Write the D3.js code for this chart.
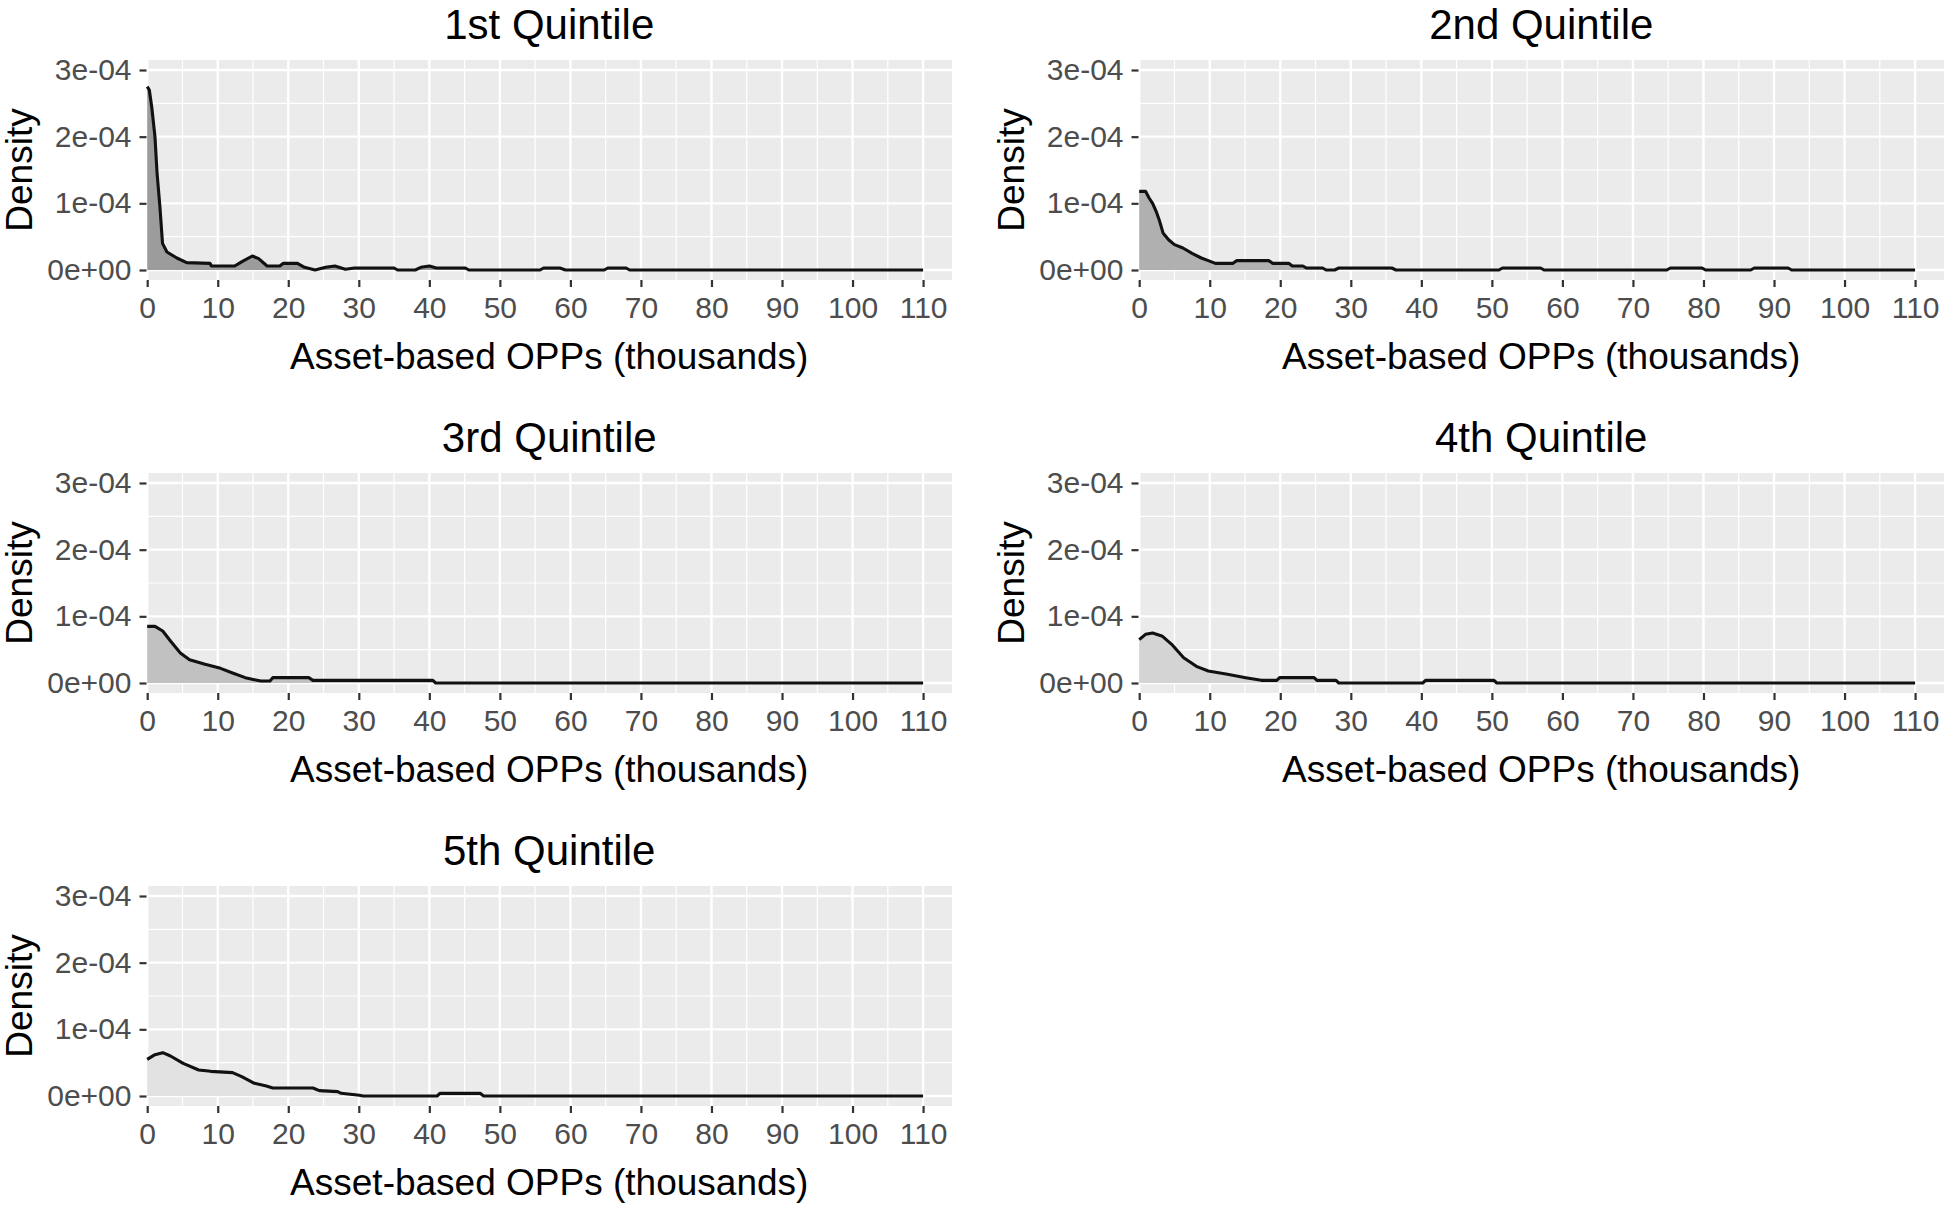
<!DOCTYPE html>
<html><head><meta charset="utf-8">
<script src="https://cdn.jsdelivr.net/npm/d3@7"></script>
<style>
body{margin:0;background:#fff}
svg{display:block}
text{font-family:"Liberation Sans",Arial,sans-serif}
</style>
</head><body><svg id="c" width="1944" height="1205"></svg>
<script>
// ---- data (x in thousands, y = density) ----
const titles = ["1st Quintile","2nd Quintile","3rd Quintile","4th Quintile","5th Quintile"];
const fills = ["#9c9c9c","#b0b0b0","#c1c1c1","#d4d4d4","#e2e2e2"];

const q1 = [[0,2.75e-4],[0.3,2.7e-4],[0.66,2.43e-4],[1.1,2.0e-4],[1.4,1.45e-4],[1.8,0.95e-4],[2.17,0.4e-4],[2.8,0.27e-4],[4.2,0.18e-4],[5.6,0.11e-4],[8.9,0.1e-4],[9.1,0.06e-4],[12.4,0.06e-4],[13.5,0.13e-4],[14.9,0.21e-4],[15.8,0.17e-4],[17.0,0.06e-4],[18.8,0.06e-4],[19.3,0.1e-4],[21.3,0.1e-4],[22.3,0.04e-4],[23.8,0.0],[25.3,0.04e-4],[26.6,0.06e-4],[28.1,0.01e-4],[29.4,0.03e-4],[35.0,0.03e-4],[35.5,0.0],[38.0,0.0],[38.8,0.04e-4],[40.0,0.06e-4],[41.0,0.03e-4],[45.1,0.03e-4],[45.6,0.0],[55.7,0.0],[56.2,0.03e-4],[58.5,0.03e-4],[59.3,0.0],[64.8,0.0],[65.3,0.03e-4],[67.9,0.03e-4],[68.4,0.0],[110,0.0]];
const q2 = [[0,1.18e-4],[0.9,1.18e-4],[1.4,1.08e-4],[1.9,1.0e-4],[2.4,0.88e-4],[2.9,0.73e-4],[3.4,0.55e-4],[4.2,0.45e-4],[5.0,0.38e-4],[6.2,0.33e-4],[7.5,0.25e-4],[8.8,0.18e-4],[9.8,0.14e-4],[10.8,0.1e-4],[13.3,0.1e-4],[13.8,0.14e-4],[18.4,0.14e-4],[18.9,0.1e-4],[21.2,0.1e-4],[21.7,0.06e-4],[23.2,0.06e-4],[23.7,0.03e-4],[26.0,0.03e-4],[26.5,0.0],[27.7,0.0],[28.3,0.03e-4],[35.8,0.03e-4],[36.4,0.0],[51.0,0.0],[51.5,0.03e-4],[56.9,0.03e-4],[57.4,0.0],[74.8,0.0],[75.3,0.03e-4],[79.8,0.03e-4],[80.3,0.0],[86.7,0.0],[87.2,0.03e-4],[92.0,0.03e-4],[92.5,0.0],[110,0.0]];
const q3 = [[0,0.85e-4],[1.1,0.85e-4],[2.2,0.78e-4],[3.3,0.63e-4],[4.7,0.45e-4],[6.0,0.35e-4],[8.2,0.28e-4],[10.4,0.22e-4],[12.1,0.15e-4],[13.9,0.08e-4],[15.2,0.05e-4],[16.1,0.03e-4],[17.4,0.03e-4],[17.8,0.08e-4],[22.9,0.08e-4],[23.5,0.04e-4],[40.5,0.04e-4],[40.9,0.0],[110,0.0]];
const q4 = [[0,0.65e-4],[0.9,0.73e-4],[1.9,0.75e-4],[3.3,0.7e-4],[4.6,0.58e-4],[6.3,0.38e-4],[8.1,0.25e-4],[9.8,0.18e-4],[12.5,0.13e-4],[15.1,0.08e-4],[17.3,0.04e-4],[19.5,0.04e-4],[19.9,0.08e-4],[24.8,0.08e-4],[25.2,0.04e-4],[27.9,0.04e-4],[28.3,0.0],[40.2,0.0],[40.6,0.04e-4],[50.3,0.04e-4],[50.7,0.0],[110,0.0]];
const q5 = [[0,0.55e-4],[1.1,0.62e-4],[2.2,0.65e-4],[3.3,0.6e-4],[5.1,0.49e-4],[7.3,0.39e-4],[9.0,0.37e-4],[12.1,0.35e-4],[13.4,0.29e-4],[15.2,0.19e-4],[16.9,0.15e-4],[17.8,0.12e-4],[23.5,0.12e-4],[24.4,0.08e-4],[27.0,0.065e-4],[27.5,0.04e-4],[30.1,0.01e-4],[30.6,0.0],[41.1,0.0],[41.5,0.04e-4],[47.2,0.04e-4],[47.7,0.0],[110,0.0]];
const series = [q1,q2,q3,q4,q5];

const xTicks = [0,10,20,30,40,50,60,70,80,90,100,110];
const xMinor = [5,15,25,35,45,55,65,75,85,95,105];
const yTicks = [0,1e-4,2e-4,3e-4];
const yMinor = [0.5e-4,1.5e-4,2.5e-4];
const yTickLabels = ["0e+00","1e-04","2e-04","3e-04"];
const xLabel = "Asset-based OPPs (thousands)";
const yLabel = "Density";

// ---- layout ----
const svg = d3.select("#c");
const x = d3.scaleLinear().domain([-0.1,114.1]).range([146.5,952]);
const y = d3.scaleLinear().domain([-0.15e-4,3.15e-4]).range([280,60]);
const colOff = 992, rowOff = 413;

series.forEach((data,i)=>{
  const col = i%2, row = Math.floor(i/2);
  const g = svg.append("g").attr("transform",`translate(${col*colOff},${row*rowOff})`);
  const [x0,x1] = x.range(), [yb,yt] = y.range();
  g.append("rect").attr("x",x0).attr("y",yt).attr("width",x1-x0).attr("height",yb-yt).attr("fill","#EBEBEB");
  g.selectAll(".vmin").data(xMinor).join("line").attr("x1",d=>x(d)).attr("x2",d=>x(d)).attr("y1",yt).attr("y2",yb).attr("stroke","#fff").attr("stroke-width",1.2);
  g.selectAll(".hmin").data(yMinor).join("line").attr("y1",d=>y(d)).attr("y2",d=>y(d)).attr("x1",x0).attr("x2",x1).attr("stroke","#fff").attr("stroke-width",1.2);
  g.selectAll(".vmaj").data(xTicks).join("line").attr("x1",d=>x(d)).attr("x2",d=>x(d)).attr("y1",yt).attr("y2",yb).attr("stroke","#fff").attr("stroke-width",2.4);
  g.selectAll(".hmaj").data(yTicks).join("line").attr("y1",d=>y(d)).attr("y2",d=>y(d)).attr("x1",x0).attr("x2",x1).attr("stroke","#fff").attr("stroke-width",2.4);
  const area = d3.area().x(d=>x(d[0])).y0(y(0)).y1(d=>y(d[1]));
  const line = d3.line().x(d=>x(d[0])).y(d=>y(d[1]));
  g.append("path").datum(data).attr("d",area).attr("fill",fills[i]);
  g.append("path").datum(data).attr("d",line).attr("fill","none").attr("stroke","#111").attr("stroke-width",3.1).attr("stroke-linejoin","round");
  const xa = g.append("g").attr("transform",`translate(0,${yb})`).call(d3.axisBottom(x).tickValues(xTicks).tickSize(7).tickPadding(10));
  const ya = g.append("g").attr("transform",`translate(${x0},0)`).call(d3.axisLeft(y).tickValues(yTicks).tickFormat((d,j)=>yTickLabels[j]).tickSize(7).tickPadding(8));
  [xa,ya].forEach(a=>{
    a.select(".domain").remove();
    a.selectAll(".tick line").attr("stroke","#333").attr("stroke-width",2.2);
    a.selectAll(".tick text").attr("fill","#4D4D4D").style("font-size","30px").style("font-family","'Liberation Sans',Arial,sans-serif");
  });
  const cx = (x0+x1)/2;
  g.append("text").attr("x",cx).attr("y",39).attr("text-anchor","middle").style("font-size","42px").attr("fill","#000").text(titles[i]);
  g.append("text").attr("x",cx).attr("y",369).attr("text-anchor","middle").style("font-size","37px").attr("fill","#000").text(xLabel);
  g.append("text").attr("transform",`translate(32,${(yb+yt)/2}) rotate(-90)`).attr("text-anchor","middle").style("font-size","37px").attr("fill","#000").text(yLabel);
});
</script></body></html>
